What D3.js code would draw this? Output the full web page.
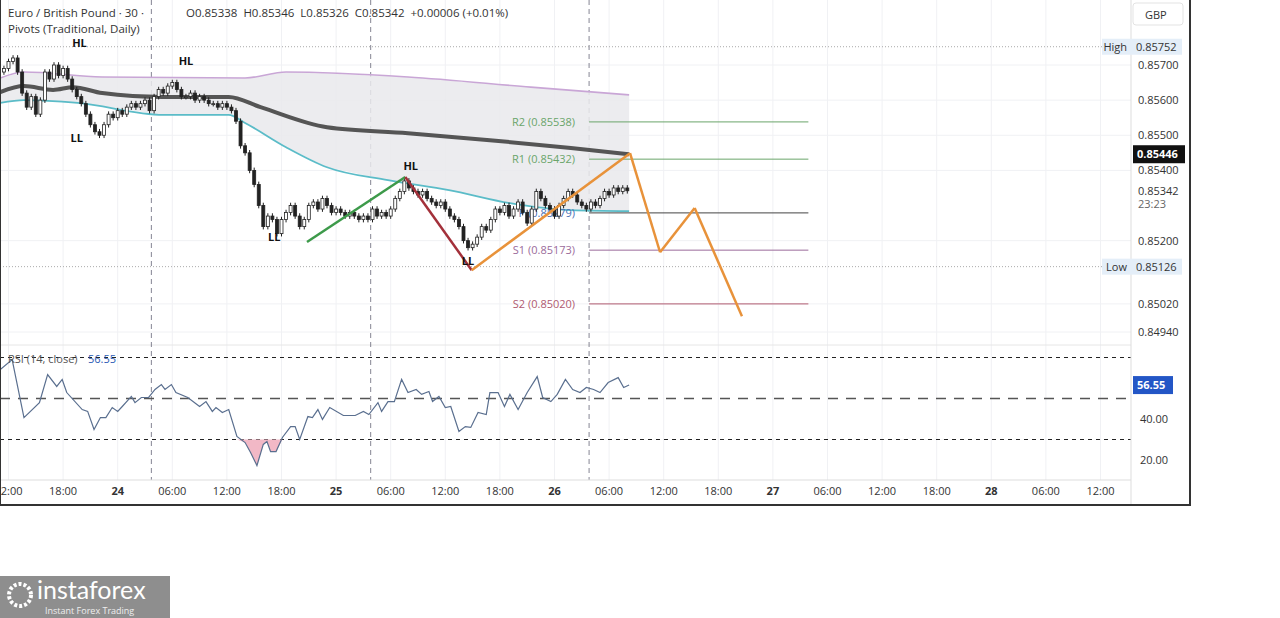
<!DOCTYPE html>
<html><head><meta charset="utf-8">
<script src="https://cdn.jsdelivr.net/npm/d3@7"></script>
<style>body{margin:0;background:#fff;font-family:"Open Sans",Roboto,sans-serif}</style>
</head><body><svg id="c" width="1280" height="618"></svg>
<script>
// 30-min closes, first candle at 23rd 11:30 (hour -0.5 from 23rd 12:00)
const closes = [.8569,.8571,.8572,.8568,.8562,.8558,.8561,.8556,.8560,.8568,.8566,.8570,.8567,.8569,.8566,.8563,.8561,.8559,.8556,.8553,
 .8551,.8550,.8553,.8556,.8555,.8557,.8556,.8558,.8559,.8558,.8559,.8560,.8557,.8561,.8563,.8562,.8564,.8565,.8563,.8561,
 .8561,.8562,.8560,.8561,.8560,.8559,.8559,.8558,.8559,.8558,.8557,.8554,.8547,.8545,.8540,.8536,.8530,.8524,.8527,.8526,
 .8522,.8526,.8528,.8530,.8527,.8524,.8526,.8530,.8531,.8529,.8532,.8530,.8528,.8529,.8528,.8527,.8528,.8527,.8526,.8527,
 .8526,.8529,.8527,.8528,.8527,.8529,.8532,.8534,.8537,.8535,.8534,.8533,.8534,.8532,.8531,.8530,.8531,.8529,.8527,.8526,
 .8524,.8520,.8518,.8519,.8521,.8524,.8523,.8526,.8529,.8528,.8530,.8527,.8529,.8531,.8528,.8525,.8529,.8534,.8532,.8530,
 .8529,.8527,.8530,.8532,.8534,.8533,.8531,.8530,.8529,.8531,.8530,.8532,.8534,.8533,.8535,.8534,.8535,.85342];

const upperT = [-0.9,1.7,10.3,26,30.5,43.9,57.4,68.2];
const upperV = [.85663,.8568,.85666,.85663,.8568,.85666,.85637,.85615];
const midT = [-0.9,1.7,4.9,7.1,10.3,17,24.2,27.7,35,43.9,52.9,61.8,68.2];
const midV = [.85623,.8564,.85629,.85637,.8562,.85609,.85609,.8558,.85523,.85506,.85486,.85464,.85446];
const lowT = [-0.9,1.7,7.6,17,24.2,26,30.5,35,41.7,48.4,55.1,61.8,68.2];
const lowV = [.85592,.856,.85592,.85558,.85558,.85535,.85466,.85409,.85372,.85344,.85307,.85287,.85284];

const pivotNames = ["R2","R1","P","S1","S2"];
const pivotValues = [.85538,.85432,.85279,.85173,.85020];
const pivotColors = ["#6aa56a","#6aa56a","#4a6fb5","#9b6b9b","#b05a70"];
const pivotStart = 63.8, pivotEnd = 87.9;
const sessions = [15.7,39.8,63.8];

const zigT = [32.8,43.6,50.9,68.3,71.6,75.4,80.6];
const zigV = [.85196,.85381,.85116,.85449,.85167,.85293,.84985];

const swingLabels = [["HL",7.8,.85752],["HL",19.5,.85700],["LL",7.5,.85480],["LL",29.2,.85200],["HL",44.2,.85400],["LL",50.5,.85130]];

const rsiT = [-0.9,0.4,1.7,3.4,4.3,5.3,5.9,6.4,8.1,8.7,9.4,10.1,10.7,11.4,12,12.5,13.5,13.9,14.6,15.4,16.1,16.8,17.2,17.9,18.4,19.7,21,21.7,22.4,22.8,23.5,24.2,25.1,26,26.6,27.3,28,28.4,28.8,29.4,30.1,31,31.5,32,32.9,33.4,34,34.5,35.3,36.8,38.1,39,39.6,40.6,41,41.7,42.4,43.2,43.9,44.8,45.4,46.2,46.6,47.3,48,48.6,49.5,50.2,50.8,51.6,52.5,52.9,53.8,54.5,55.1,56,57,58.1,58.7,59.6,60.3,61.2,62,62.8,63.5,64.3,65,65.9,67,67.6,68.2];
const rsiV = [64.1,69,40.7,48,61.7,55.9,59.3,52.9,44.6,43.7,34.9,40.7,40.7,45.6,43.7,46.1,51,48,50.5,50.5,54.4,56.8,54.4,56.8,52.9,50.5,46.1,48.5,43.7,45.6,43.2,44.6,31.5,28.5,23.7,17.3,27.6,29,24.1,24.1,31,36.3,36.3,30,41.2,40.7,44.6,39.8,45.6,41.7,41.7,43.7,42.2,48,43.7,48.5,48.5,59.3,52.9,54.4,52,53.4,48.5,51,45.6,46.1,33.9,36.3,35.9,43.2,42.2,52.9,52.9,46.1,52,44.6,52.9,60.7,50.5,48.5,52,59.3,54.4,52.9,55.4,54.4,52.9,57.8,60.2,55.4,56.55];

const timeTicks = [0,6,12,18,24,30,36,42,48,54,60,66,72,78,84,90,96,102,108,114,120];
const timeLabels = ["12:00","18:00","24","06:00","12:00","18:00","25","06:00","12:00","18:00","26","06:00","12:00","18:00","27","06:00","12:00","18:00","28","06:00","12:00"];
const priceTicks = [.857,.856,.855,.854,.852,.8502,.8494];
const rsiTicks = [40,20];

const svg = d3.select("#c");
const W = 1131, H = 480;
const x = d3.scaleLinear().domain([0,6]).range([8.5,63.1]);
const y = d3.scaleLinear().domain([.8494,.857]).range([332,65]);
const yr = d3.scaleLinear().domain([20,60]).range([460,378]);

svg.append("clipPath").attr("id","cl").append("rect").attr("width",W).attr("height",H);
const g = svg.append("g").attr("clip-path","url(#cl)");

// grid
g.selectAll(".vg").data(timeTicks).enter().append("line").attr("x1",d=>x(d)).attr("x2",d=>x(d)).attr("y1",0).attr("y2",H).attr("stroke","#f0f1f4");
g.selectAll(".hg").data(priceTicks).enter().append("line").attr("x1",0).attr("x2",W).attr("y1",d=>y(d)).attr("y2",d=>y(d)).attr("stroke","#f0f1f4");
g.append("line").attr("x1",0).attr("x2",W).attr("y1",345).attr("y2",345).attr("stroke","#e6e6e6");

// session separators
sessions.forEach(h=>g.append("line").attr("x1",x(h)).attr("x2",x(h)).attr("y1",0).attr("y2",H).attr("stroke","#667").attr("stroke-dasharray","5,4").attr("stroke-width",0.8));

// high / low dotted
[.85752,.85126].forEach(v=>g.append("line").attr("x1",0).attr("x2",W).attr("y1",y(v)).attr("y2",y(v)).attr("stroke","#aaa").attr("stroke-dasharray","1,2"));

// envelope fill
const up = upperT.map((t,i)=>[t,upperV[i]]), lo = lowT.map((t,i)=>[t,lowV[i]]);
const interp = (T,V,t)=>{let i=d3.bisectRight(T,t)-1;i=Math.max(0,Math.min(T.length-2,i));const f=(t-T[i])/(T[i+1]-T[i]);return V[i]+f*(V[i+1]-V[i]);};
const ts = d3.range(-0.9,68.25,0.5).concat([68.2]);
g.append("path").datum(ts).attr("fill","#e9e9ec").attr("opacity",0.85)
 .attr("d",d3.area().x(t=>x(t)).y0(t=>y(interp(lowT,lowV,t))).y1(t=>y(interp(upperT,upperV,t))).curve(d3.curveMonotoneX));
const line = d3.line().x(d=>x(d[0])).y(d=>y(d[1])).curve(d3.curveMonotoneX);
g.append("path").datum(up).attr("d",line).attr("fill","none").attr("stroke","#c9a6d6").attr("stroke-width",1.6);
g.append("path").datum(lo).attr("d",line).attr("fill","none").attr("stroke","#5bbcc8").attr("stroke-width",1.8);
g.append("path").datum(midT.map((t,i)=>[t,midV[i]])).attr("d",line).attr("fill","none").attr("stroke","#555").attr("stroke-width",4);

// pivots
const px0 = x(pivotStart), px1 = x(pivotEnd);
pivotValues.forEach((v,i)=>{
  g.append("line").attr("x1",px0).attr("x2",px1).attr("y1",y(v)).attr("y2",y(v)).attr("stroke",i==2?"#444":pivotColors[i]).attr("stroke-width",1);
  g.append("text").attr("x",px0-14).attr("y",y(v)+4).attr("text-anchor","end").attr("font-size",11).attr("fill",pivotColors[i])
   .text(pivotNames[i]+" ("+v.toFixed(5)+")");
});

// candles
const cw = 3;
closes.forEach((c,i)=>{
  const t = -0.5+i*0.5, o = i? closes[i-1] : .8568;
  const hi = Math.max(o,c)+.00008, lw = Math.min(o,c)-.00008;
  const cx = x(t);
  g.append("line").attr("x1",cx).attr("x2",cx).attr("y1",y(hi)).attr("y2",y(lw)).attr("stroke","#222").attr("stroke-width",1);
  g.append("rect").attr("x",cx-cw/2).attr("width",cw).attr("y",y(Math.max(o,c))).attr("height",Math.max(1,Math.abs(y(o)-y(c))))
   .attr("fill",c>=o?"#fff":"#222").attr("stroke","#222").attr("stroke-width",0.8);
});

// zigzag
const zz = zigT.map((t,i)=>[t,zigV[i]]);
const zcol = ["#3d9a4a","#a3303a","#e8923a","#e8923a","#e8923a","#e8923a"];
for(let i=0;i<zz.length-1;i++)
  g.append("line").attr("x1",x(zz[i][0])).attr("y1",y(zz[i][1])).attr("x2",x(zz[i+1][0])).attr("y2",y(zz[i+1][1])).attr("stroke",zcol[i]).attr("stroke-width",2.5);

swingLabels.forEach(s=>g.append("text").attr("x",x(s[1])).attr("y",y(s[2])).attr("text-anchor","middle").attr("font-size",11).attr("font-weight","bold").attr("fill","#111").text(s[0]));

// RSI
[70,30].forEach(v=>g.append("line").attr("x1",0).attr("x2",W).attr("y1",yr(v)).attr("y2",yr(v)).attr("stroke","#222").attr("stroke-dasharray","4,4"));
g.append("line").attr("x1",0).attr("x2",W).attr("y1",yr(50)).attr("y2",yr(50)).attr("stroke","#555").attr("stroke-dasharray","10,8").attr("stroke-width",1.3);
const rs = rsiT.map((t,i)=>[t,rsiV[i]]);
g.append("path").datum(rs).attr("fill","#f2b8c6").attr("d",d3.area().x(d=>x(d[0])).y0(yr(30)).y1(d=>yr(Math.min(30,d[1]))));
g.append("path").datum(rs).attr("fill","none").attr("stroke","#5a6f8f").attr("stroke-width",1.2).attr("d",d3.line().x(d=>x(d[0])).y(d=>yr(d[1])));
g.append("text").attr("x",8).attr("y",363).attr("font-size",11).attr("fill","#555").text("RSI (14, close)");
g.append("text").attr("x",88).attr("y",363).attr("font-size",11).attr("fill","#2b5bb5").text("56.55");

// time axis
svg.append("line").attr("x1",0).attr("x2",1190).attr("y1",H).attr("y2",H).attr("stroke","#ddd");
svg.selectAll(".tl").data(timeTicks).enter().append("text").attr("x",d=>x(d)).attr("y",495).attr("text-anchor","middle")
  .attr("font-size",11).attr("fill","#333").attr("font-weight",(d,i)=>["24","25","26","27","28"].includes(timeLabels[i])?"bold":null)
  .text((d,i)=>timeLabels[i]);

// price axis
const ax = 1131;
svg.append("rect").attr("x",ax).attr("y",0).attr("width",59).attr("height",505).attr("fill","#fff");
svg.append("line").attr("x1",ax).attr("x2",ax).attr("y1",0).attr("y2",505).attr("stroke","#ddd");
svg.selectAll(".pl").data(priceTicks).enter().append("text").attr("x",1138).attr("y",d=>y(d)+4).attr("font-size",11).attr("fill","#333").text(d=>d.toFixed(5));
svg.selectAll(".rl").data(rsiTicks).enter().append("text").attr("x",1140).attr("y",d=>yr(d)+4).attr("font-size",11).attr("fill","#333").text(d=>d.toFixed(2));
svg.append("rect").attr("x",1133).attr("y",3).attr("width",50).attr("height",22).attr("rx",3).attr("fill","#fff").attr("stroke","#e3e3e3");
svg.append("text").attr("x",1145).attr("y",19).attr("font-size",11).attr("fill","#333").text("GBP");
[["High",.85752],["Low",.85126]].forEach(d=>{
  svg.append("rect").attr("x",1102).attr("y",y(d[1])-8).attr("width",80).attr("height",16).attr("fill","#e4eef8");
  svg.append("text").attr("x",1127).attr("y",y(d[1])+4).attr("text-anchor","end").attr("font-size",11).attr("fill","#333").text(d[0]);
  svg.append("text").attr("x",1136).attr("y",y(d[1])+4).attr("font-size",11).attr("fill","#333").text(d[1].toFixed(5));
});
svg.append("rect").attr("x",1133).attr("y",y(.85446)-9).attr("width",52).attr("height",18).attr("fill","#111");
svg.append("text").attr("x",1137).attr("y",y(.85446)+4).attr("font-size",11).attr("font-weight","bold").attr("fill","#fff").text("0.85446");
svg.append("text").attr("x",1138).attr("y",y(.85342)+4).attr("font-size",11).attr("fill","#333").text("0.85342");
svg.append("text").attr("x",1138).attr("y",y(.85342)+17).attr("font-size",11).attr("fill","#666").text("23:23");
svg.append("rect").attr("x",1133).attr("y",yr(56.55)-9).attr("width",40).attr("height",18).attr("fill","#2356c6");
svg.append("text").attr("x",1137).attr("y",yr(56.55)+4).attr("font-size",11).attr("font-weight","bold").attr("fill","#fff").text("56.55");

// frame
svg.append("line").attr("x1",1190).attr("x2",1190).attr("y1",0).attr("y2",506).attr("stroke","#333").attr("stroke-width",2);
svg.append("line").attr("x1",0).attr("x2",1191).attr("y1",505).attr("y2",505).attr("stroke","#333").attr("stroke-width",2);
svg.append("line").attr("x1",0.5).attr("x2",0.5).attr("y1",0).attr("y2",506).attr("stroke","#333").attr("stroke-width",1);

// header
svg.append("text").attr("x",8).attr("y",17).attr("font-size",11.5).attr("fill","#333").text("Euro / British Pound · 30 ·");
svg.append("text").attr("x",8).attr("y",33).attr("font-size",11.5).attr("fill","#333").text("Pivots (Traditional, Daily)");
svg.append("text").attr("x",186).attr("y",17).attr("font-size",11.5).attr("fill","#333").style("white-space","pre").text("O0.85338  H0.85346  L0.85326  C0.85342  +0.00006 (+0.01%)");

// logo
const lg = svg.append("g");
lg.append("rect").attr("x",0).attr("y",576).attr("width",170).attr("height",42).attr("fill","#8e8e8e");
lg.append("circle").attr("cx",20).attr("cy",595).attr("r",11).attr("fill","none").attr("stroke","#fff").attr("stroke-width",4).attr("stroke-dasharray","3,2");
lg.append("text").attr("x",37).attr("y",599).attr("font-size",25).attr("fill","#fff").attr("font-family","Lato,sans-serif").text("instaforex");
lg.append("text").attr("x",45).attr("y",614).attr("font-size",9).attr("fill","#eee").text("Instant Forex Trading");
</script></body></html>
